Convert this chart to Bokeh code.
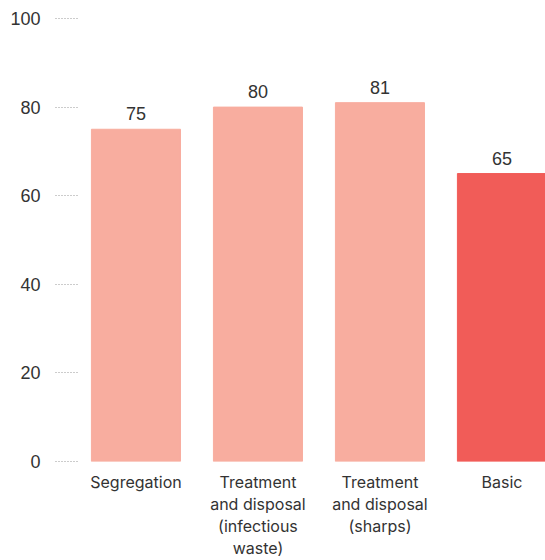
from bokeh.plotting import figure
from bokeh.models import Range1d, FixedTicker, ColumnDataSource
from bokeh.embed import file_html
from bokeh.resources import INLINE
from bokeh.core.properties import value

categories = ["Segregation", "Treatment\nand disposal\n(infectious\nwaste)",
              "Treatment\nand disposal\n(sharps)", "Basic"]
values = [75, 80, 81, 65]
colors = ["#F8AD9F", "#F8AD9F", "#F8AD9F", "#F15C58"]
y_ticks = [0, 20, 40, 60, 80, 100]

xs = [i + 0.5 for i in range(len(categories))]
src = ColumnDataSource(dict(x=xs, top=values, color=colors,
                            label=[str(v) for v in values]))

p = figure(width=545, height=560, output_backend="svg", toolbar_location=None,
           x_range=Range1d(0.029, 3.857), y_range=Range1d(0, 100),
           min_border_left=78, min_border_right=0, min_border_top=18)
p.outline_line_color = None
p.grid.visible = False
p.background_fill_color = "white"
p.border_fill_color = "white"

p.vbar(x="x", top="top", bottom=0, width=0.73, color="color", source=src)
p.text(x="x", y="top", text="label", source=src, text_align="center",
       text_baseline="bottom", y_offset=-9, text_font=value("Liberation Sans"),
       text_font_size="18px", text_color="#333333")

ya = p.yaxis[0]
ya.ticker = FixedTicker(ticks=y_ticks)
ya.axis_line_color = None
ya.major_tick_in = 0
ya.major_tick_out = 23
ya.major_tick_line_dash = "1 2"
ya.major_tick_line_color = "#999999"
ya.minor_tick_line_color = None
ya.major_label_standoff = 15
ya.major_label_text_font = "Liberation Sans"
ya.major_label_text_font_size = "18px"
ya.major_label_text_color = "#333333"

xa = p.xaxis[0]
xa.ticker = FixedTicker(ticks=xs)
xa.major_label_overrides = {x: c for x, c in zip(xs, categories)}
xa.axis_line_color = None
xa.major_tick_line_color = None
xa.minor_tick_line_color = None
xa.major_tick_in = 0
xa.major_tick_out = 0
xa.major_label_standoff = 10
xa.major_label_text_font = "Inter"
xa.major_label_text_font_size = "16px"
xa.major_label_text_color = "#333333"
xa.major_label_text_line_height = 1.1

open("out.html", "w").write(file_html(p, INLINE))
